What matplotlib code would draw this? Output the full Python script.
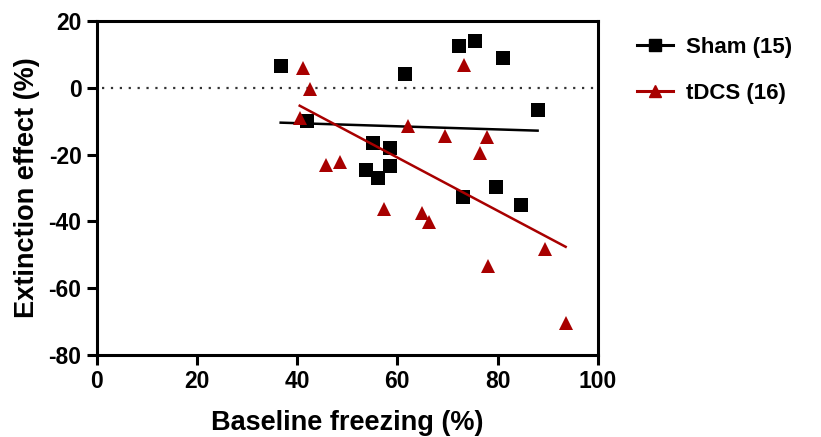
import numpy as np
import matplotlib.pyplot as plt

plt.rcParams['font.family'] = ['Liberation Sans', 'DejaVu Sans']
plt.rcParams['font.weight'] = 'bold'
plt.rcParams['axes.unicode_minus'] = False

# Sham group
sham_x = [36.7, 41.9, 61.5, 72.3, 75.6, 81.0, 88.0, 55.1, 58.5, 53.7, 56.1, 58.5, 73.1, 79.6, 84.6]
sham_y = [6.6, -9.9, 4.2, 12.6, 14.1, 9.0, -6.6, -16.5, -18.0, -24.6, -27.0, -23.4, -32.6, -29.6, -35.0]

# tDCS group
tdcs_x = [41.2, 42.5, 40.5, 62.1, 69.6, 77.8, 76.6, 73.3, 45.8, 48.6, 57.3, 64.9, 66.3, 89.4, 78.1, 93.6]
tdcs_y = [6.0, -0.4, -9.1, -11.6, -14.6, -14.8, -19.4, 6.9, -23.0, -22.2, -36.2, -37.5, -40.3, -48.3, -53.3, -70.4]

labels = ['Sham (15)', 'tDCS (16)']
red = '#a80000'

fig = plt.figure(figsize=(8.21, 4.37), dpi=100)
ax = fig.add_axes([0.118, 0.188, 0.610, 0.764])

ax.axhline(0, color='#333333', linestyle=(0, (1, 3)), linewidth=1.6, xmin=0.01, xmax=0.995)

for x, y, c, m, lab in [(sham_x, sham_y, 'black', 's', labels[0]),
                        (tdcs_x, tdcs_y, red, '^', labels[1])]:
    x = np.array(x)
    y = np.array(y)
    k, b = np.polyfit(x, y, 1)
    xs = np.array([x.min(), x.max()])
    ax.plot(xs, k * xs + b, color=c, linewidth=1.8)
    ax.plot(x, y, linestyle='none', marker=m, color=c, markersize=10 if m == 's' else 10.5,
            markeredgewidth=0)
    # legend proxy
    ax.plot([], [], color=c, marker=m, markersize=8, linewidth=2.2, label=lab)

ax.set_xlim(0, 100)
ax.set_ylim(-80, 20)
ax.set_xticks(range(0, 101, 20))
ax.set_yticks(range(-80, 21, 20))
for s in ax.spines.values():
    s.set_linewidth(2.2)
ax.tick_params(width=2.2, length=7, labelsize=16.5, pad=4)
ax.set_xlabel('Baseline freezing (%)', fontsize=19.5, fontweight='bold', labelpad=12)
ax.set_ylabel('Extinction effect (%)', fontsize=19.5, fontweight='bold', labelpad=6)

handles, labs = ax.get_legend_handles_labels()
fig.legend(handles[-2:], labs[-2:], loc='upper left', bbox_to_anchor=(0.752, 0.962),
           frameon=False, handlelength=1.6, handletextpad=0.6, labelspacing=1.15,
           prop={'weight': 'bold', 'size': 16})

fig.savefig('out.png', dpi=100)
